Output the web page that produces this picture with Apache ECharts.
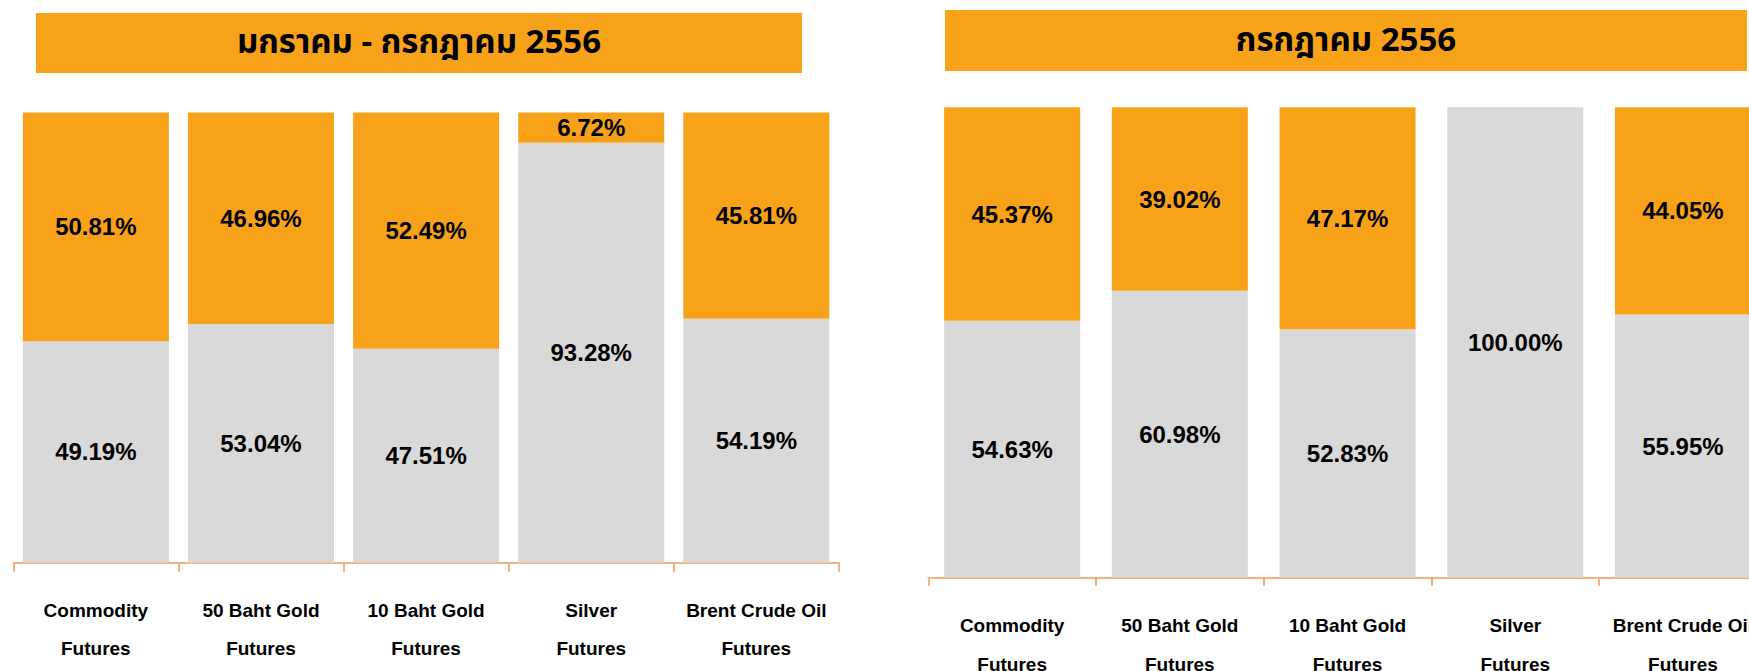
<!DOCTYPE html>
<html>
<head>
<meta charset="utf-8">
<script src="https://cdn.jsdelivr.net/npm/echarts@6/dist/echarts.min.js"></script>
<style>
    html, body { margin: 0; padding: 0; background: #ffffff; }
    #main { width: 1749px; height: 671px; }
</style>
</head>
<body>
<div id="main"></div>
<script>
var categories = ["Commodity\nFutures", "50 Baht Gold\nFutures", "10 Baht Gold\nFutures", "Silver\nFutures", "Brent Crude Oil\nFutures"]

var title_left = "มกราคม - กรกฎาคม 2556"
var title_right = "กรกฎาคม 2556"

// Jan - Jul 2556
var gray_left = [49.19, 53.04, 47.51, 93.28, 54.19]
var orange_left = [50.81, 46.96, 52.49, 6.72, 45.81]

// Jul 2556
var gray_right = [54.63, 60.98, 52.83, 100.00, 55.95]
var orange_right = [45.37, 39.02, 47.17, 0, 44.05]

var ORANGE = "#f8a21a"
var GRAY = "#d9d9d9"
var AXIS_ORANGE = "#f5b27e"

var chart = echarts.init(document.getElementById("main"), null, { renderer: "svg" })

function pctLabel(p) {
    return p.value > 0 ? p.value.toFixed(2) + "%" : ""
}

var barLabel = {
    show: true,
    position: "inside",
    formatter: pctLabel,
    color: "#000000",
    fontFamily: "Liberation Sans, Arial, sans-serif",
    fontWeight: "bold",
    fontSize: 24
}

function makeXAxis(gridIndex, tickLen, margin, lineHeight) {
    return {
        type: "category",
        gridIndex: gridIndex,
        data: categories,
        axisLine: { show: true, lineStyle: { color: AXIS_ORANGE, width: 2 } },
        axisTick: { show: true, length: tickLen, lineStyle: { color: AXIS_ORANGE, width: 2 } },
        axisLabel: {
            interval: 0,
            margin: margin,
            color: "#000000",
            fontFamily: "Liberation Sans, Arial, sans-serif",
            fontWeight: "bold",
            fontSize: 19,
            lineHeight: lineHeight
        }
    }
}

function makeYAxis(gridIndex) {
    return {
        type: "value",
        gridIndex: gridIndex,
        min: 0,
        max: 100,
        show: false,
        splitLine: { show: false }
    }
}

function makeTitle(x, y, w, h, text) {
    return [
        {
            type: "rect",
            shape: { x: x, y: y, width: w, height: h },
            style: { fill: ORANGE }
        },
        {
            type: "text",
            x: x + w / 2,
            y: y + h / 2,
            style: {
                text: text,
                fill: "#000000",
                fontFamily: "Noto Sans Thai, Noto Sans, Liberation Sans, sans-serif",
                fontWeight: "bold",
                fontSize: 33,
                align: "center",
                verticalAlign: "middle"
            }
        }
    ]
}

var option = {
    animation: false,
    backgroundColor: "#ffffff",
    graphic: makeTitle(36, 13, 766, 60, title_left).concat(makeTitle(945, 10, 802, 61, title_right)),
    grid: [
        { left: 13.3, top: 112.6, width: 825.6, height: 450.1, outerBoundsMode: "none" },
        { left: 928.3, top: 107.3, width: 838.5, height: 470.4, outerBoundsMode: "none" }
    ],
    xAxis: [
        makeXAxis(0, 9, 29, 38),
        makeXAxis(1, 8, 28, 39)
    ],
    yAxis: [makeYAxis(0), makeYAxis(1)],
    series: [
        {
            name: "gray_left",
            type: "bar",
            stack: "left",
            xAxisIndex: 0,
            yAxisIndex: 0,
            barWidth: 146,
            itemStyle: { color: GRAY },
            label: barLabel,
            data: gray_left
        },
        {
            name: "orange_left",
            type: "bar",
            stack: "left",
            xAxisIndex: 0,
            yAxisIndex: 0,
            barWidth: 146,
            itemStyle: { color: ORANGE },
            label: barLabel,
            data: orange_left
        },
        {
            name: "gray_right",
            type: "bar",
            stack: "right",
            xAxisIndex: 1,
            yAxisIndex: 1,
            barWidth: 136,
            itemStyle: { color: GRAY },
            label: barLabel,
            data: gray_right
        },
        {
            name: "orange_right",
            type: "bar",
            stack: "right",
            xAxisIndex: 1,
            yAxisIndex: 1,
            barWidth: 136,
            itemStyle: { color: ORANGE },
            label: barLabel,
            data: orange_right
        }
    ]
}

chart.setOption(option)
</script>
</body>
</html>
